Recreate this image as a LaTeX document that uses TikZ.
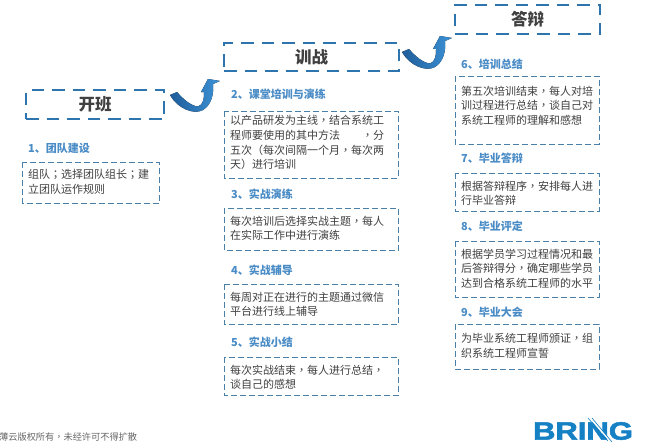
\documentclass[tikz,border=0pt]{standalone}
\usepackage{fontspec}
\setmainfont{Noto Sans CJK SC}
\newfontfamily\pcfont{Noto Sans CJK TC}
\newfontfamily\logofont[BoldFeatures={FakeBold=2}]{Liberation Sans}
\newcommand{\pc}[1]{{\pcfont #1}}
\definecolor{headblue}{HTML}{2E75B0}
\definecolor{boxblue}{HTML}{4A7FA8}
\definecolor{labelblue}{HTML}{4A8CC6}
\definecolor{txtgray}{HTML}{404040}
\definecolor{arrdark}{HTML}{1F5C9A}
\definecolor{arrlight}{HTML}{3C93D6}
\definecolor{logoblue}{HTML}{1580C4}
\tikzset{
 x=1pt,y=-1pt,
 headbox/.style={draw=headblue,line width=2pt,dash pattern=on 12.5pt off 8pt,anchor=north west,inner sep=0pt,font=\fontsize{16.5}{16.5}\selectfont\bfseries,text=txtgray},
 textbox/.style={draw=boxblue,line width=0.7pt,dash pattern=on 6pt off 3pt},
 bodytext/.style={anchor=north west,inner sep=0pt,align=left,text=txtgray,font=\fontsize{11}{14.6}\selectfont},
 steplabel/.style={anchor=west,inner sep=0pt,text=labelblue,font=\fontsize{11}{12}\selectfont\bfseries},
 turnarrow/.style={left color=arrdark,right color=arrlight,draw=none}
}
\newcommand{\turnarrow}[2]{%
 \fill[turnarrow,shift={(#1,#2)}] (170,95) -- (177,92)
   .. controls (183,99) and (191,106) .. (198,106.5) .. controls (203,105) and (204.5,98) .. (204,92)
   -- (201,92) -- (208,79) -- (220,81) -- (213,84) .. controls (214,95) and (211,105) .. (203,110)
   .. controls (194,115) and (178,109) .. cycle;}
\begin{document}
\begin{tikzpicture}
\useasboundingbox (0,0) rectangle (645,444);
\fill[white] (0,0) rectangle (645,444);
% headers
\node[headbox,minimum width=138pt,minimum height=29pt] (h1) at (25,89) {开班};
\node[headbox,minimum width=175pt,minimum height=28pt] (h2) at (223,42) {训战};
\node[headbox,minimum width=145pt,minimum height=29pt] (h3) at (454,4) {答辩};
% labels
\node[steplabel] (l1) at (28,148) {1、团队建设};
\node[steplabel] (l2) at (231,94) {2、课堂培训与演练};
\node[steplabel] (l3) at (231,194) {3、实战演练};
\node[steplabel] (l4) at (231,270) {4、实战辅导};
\node[steplabel] (l5) at (231,342) {5、实战小结};
\node[steplabel] (l6) at (461,64) {6、培训总结};
\node[steplabel] (l7) at (461,158) {7、毕业答辩};
\node[steplabel] (l8) at (461,226) {8、毕业评定};
\node[steplabel] (l9) at (461,312) {9、毕业大会};
% boxes
\draw[textbox] (22.5,162) rectangle (159,203);
\draw[textbox] (224,111) rectangle (398,178);
\draw[textbox] (224,208) rectangle (398.5,250);
\draw[textbox] (224,284) rectangle (398.5,324);
\draw[textbox] (224,357) rectangle (398.5,395);
\draw[textbox] (455,76) rectangle (599,144);
\draw[textbox] (455,173) rectangle (599,211);
\draw[textbox] (455,241) rectangle (599,297);
\draw[textbox] (455,324) rectangle (599,369);
% body text
\node[bodytext] (t1) at (28,169.5) {组队\pc{；}选择团队组长\pc{；}建\\立团队运作规则};
\node[bodytext] (t2) at (230,115.5) {以产品研发为主线\pc{，}结合系统工\\程师要使用的其中方法\hspace{22pt}\pc{，}分\\五次（每次间隔一个月\pc{，}每次两\\天）进行培训};
\node[bodytext] (t3) at (230,215.5) {每次培训后选择实战主题\pc{，}每人\\在实际工作中进行演练};
\node[bodytext] (t4) at (230,291.5) {每周对正在进行的主题通过微信\\平台进行线上辅导};
\node[bodytext] (t5) at (230,364.5) {每次实战结束\pc{，}每人进行总结\pc{，}\\谈自己的感想};
\node[bodytext] (t6) at (461,85.5) {第五次培训结束\pc{，}每人对培\\训过程进行总结\pc{，}谈自己对\\系统工程师的理解和感想};
\node[bodytext] (t7) at (461,180.5) {根据答辩程序\pc{，}安排每人进\\行毕业答辩};
\node[bodytext] (t8) at (461,248.5) {根据学员学习过程情况和最\\后答辩得分\pc{，}确定哪些学员\\达到合格系统工程师的水平};
\node[bodytext] (t9) at (461,333.5) {为毕业系统工程师颁证\pc{，}组\\织系统工程师宣誓};
% arrows
\turnarrow{0}{0}
\turnarrow{232}{-43}
% footer
\node[anchor=west,inner sep=0pt,text=txtgray!80,font=\fontsize{9.2}{10}\selectfont] (foot) at (-1,437) {薄云版权所有\pc{，}未经许可不得扩散};
% logo
\node[anchor=center,inner sep=0pt,text=logoblue,font=\logofont\fontsize{25}{25}\selectfont\bfseries,xscale=1.24] (logo) at (583,431) {BRING};
\draw[white,line width=1.6pt] (591,419) -- (611,442);
\draw[logoblue,line width=0.6pt] (588,418) -- (608,441);
\draw[logoblue,line width=0.6pt] (592,418) -- (612,442);
\end{tikzpicture}
\end{document}
